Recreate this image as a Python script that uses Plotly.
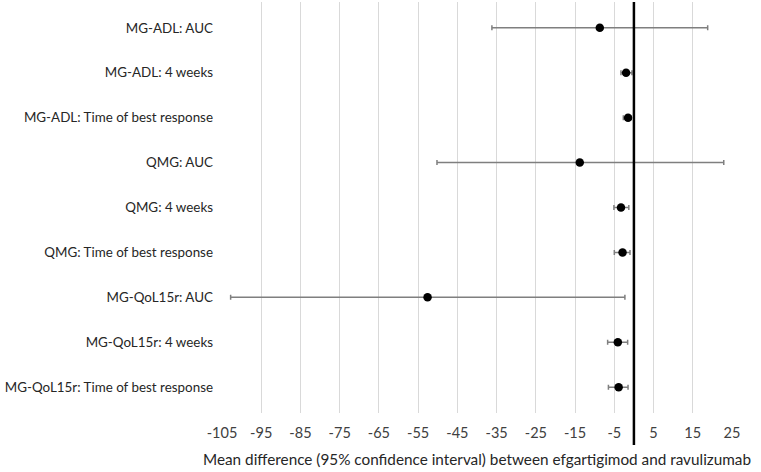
import plotly.graph_objects as go

categories = [
    "MG-ADL: AUC",
    "MG-ADL: 4 weeks",
    "MG-ADL: Time of best response",
    "QMG: AUC",
    "QMG: 4 weeks",
    "QMG: Time of best response",
    "MG-QoL15r: AUC",
    "MG-QoL15r: 4 weeks",
    "MG-QoL15r: Time of best response",
]
mean_diff = [-8.7, -2.0, -1.5, -13.8, -3.3, -2.9, -52.6, -4.1, -3.9]
ci_lower = [-36.2, -3.3, -2.7, -50.2, -5.1, -5.0, -102.8, -6.7, -6.5]
ci_upper = [18.8, -0.5, -0.7, 22.9, -1.3, -1.0, -2.3, -1.6, -1.5]
tick_vals = list(range(-105, 26, 10))
tick_text = [str(v) for v in tick_vals]

err_plus = [u - m for u, m in zip(ci_upper, mean_diff)]
err_minus = [m - l for m, l in zip(mean_diff, ci_lower)]

font_family = "Lato, Open Sans, sans-serif"

fig = go.Figure()
fig.add_trace(go.Scatter(
    x=mean_diff,
    y=categories,
    mode="markers",
    marker=dict(color="black", size=8.5),
    error_x=dict(type="data", array=err_plus, arrayminus=err_minus,
                 color="#7f7f7f", thickness=1.5, width=2.5),
    showlegend=False,
    hoverinfo="skip",
))

fig.add_shape(type="line", xref="x", yref="paper", x0=0, x1=0, y0=-0.078, y1=1.0,
              line=dict(color="black", width=2.5))

fig.update_layout(
    width=761, height=472,
    margin=dict(l=222, r=29, t=2, b=59),
    plot_bgcolor="white", paper_bgcolor="white",
    font=dict(family=font_family, size=14, color="#404040"),
    xaxis=dict(
        range=[-105, 25],
        tickmode="array", tickvals=tick_vals, ticktext=tick_text,
        showgrid=True, gridcolor="#d9d9d9", gridwidth=1.3,
        zeroline=False, showline=False, ticks="",
        tickfont=dict(size=14.5, color="#404040"),
        ticklabelstandoff=9,
        automargin=False,
        title=dict(text="Mean difference (95% confidence interval) between efgartigimod and ravulizumab",
                   font=dict(size=15.3, color="#262626"), standoff=14),
    ),
    yaxis=dict(
        categoryorder="array", categoryarray=categories,
        autorange="reversed",
        showgrid=False, zeroline=False, showline=False, ticks="",
        ticklabelstandoff=8,
        automargin=False,
        tickfont=dict(size=13.4, color="#262626"),
    ),
)

fig.write_html("out.html", config={"displayModeBar": False},
               post_script="document.body.style.margin='0';")
